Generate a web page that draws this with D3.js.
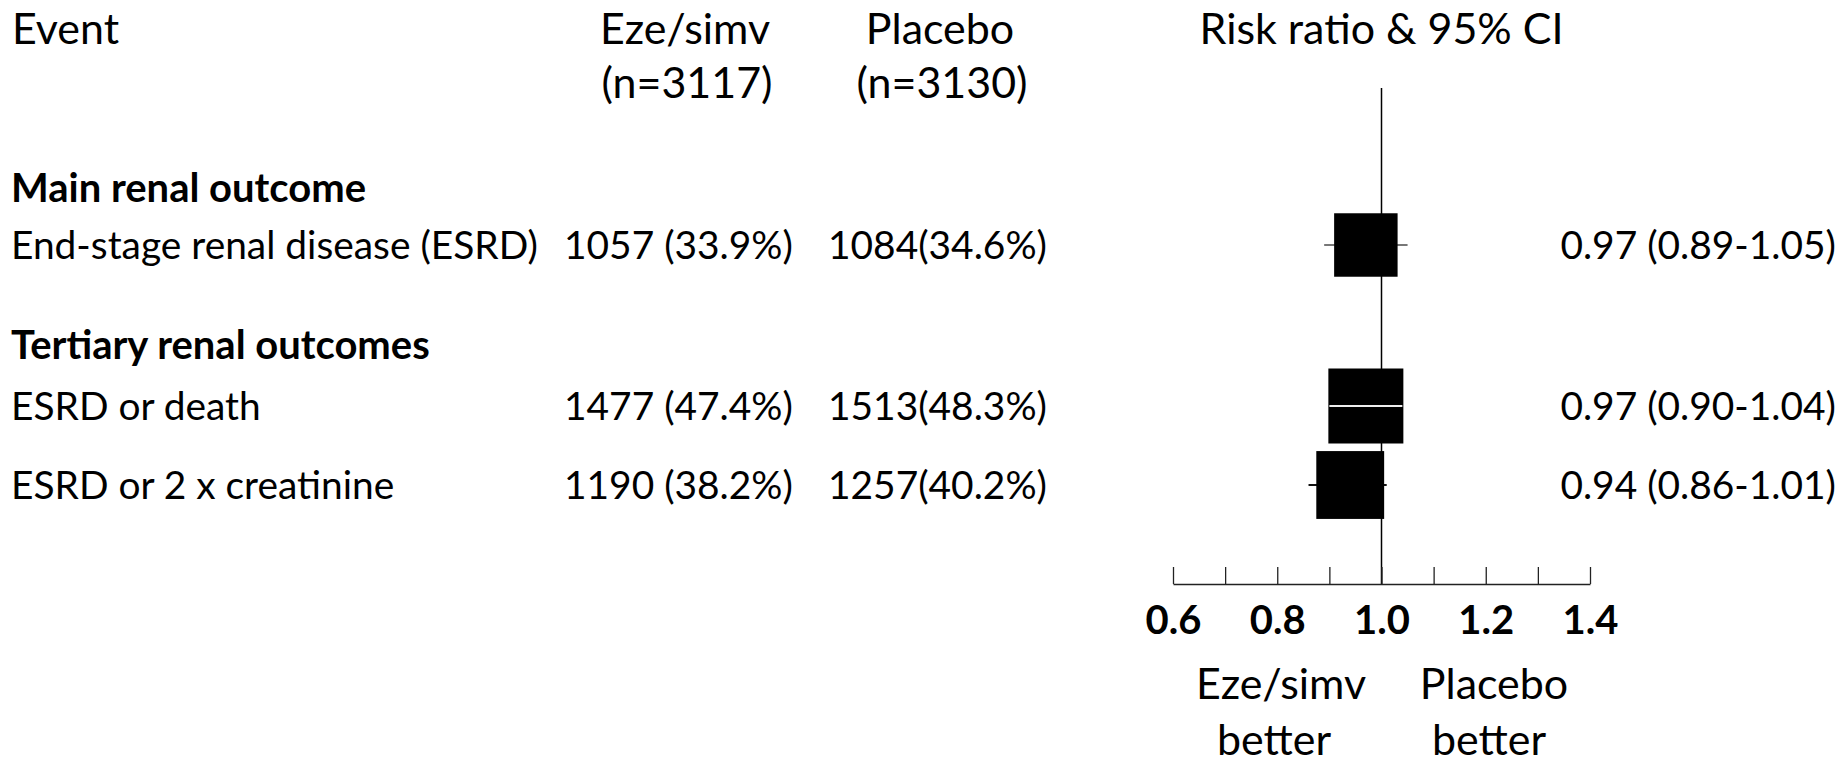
<!DOCTYPE html>
<html><head><meta charset="utf-8">
<script src="https://cdn.jsdelivr.net/npm/d3@7"></script>
<style>html,body{margin:0;padding:0;background:#fff;overflow:hidden}</style>
</head><body><svg id="chart" width="1843" height="760"></svg>
<script>
// ---------------- data ----------------
const groups = ["Main renal outcome", "Tertiary renal outcomes"];
const events = ["End-stage renal disease (ESRD)", "ESRD or death", "ESRD or 2 x creatinine"];
const eventGroup = [0, 1, 1];
const arms = ["Eze/simv", "Placebo"];
const armTotals = [3117, 3130];
const ezeN = [1057, 1477, 1190];
const ezePct = [33.9, 47.4, 38.2];
const placeboN = [1084, 1513, 1257];
const placeboPct = [34.6, 48.3, 40.2];
const rr = [0.97, 0.97, 0.94];
const rrLo = [0.89, 0.90, 0.86];
const rrHi = [1.05, 1.04, 1.01];
const axisTicks = [0.6, 0.7, 0.8, 0.9, 1.0, 1.1, 1.2, 1.3, 1.4];
const axisLabels = [0.6, 0.8, 1.0, 1.2, 1.4];
const favourLabels = [["Eze/simv", "better"], ["Placebo", "better"]];

// ---------------- layout ----------------
const FONT = "Lato, 'Open Sans', sans-serif";
const CAP = 0.716;
const svg = d3.select("#chart");
function fitSize(text, weight, target) {
  const t = svg.append("text").attr("font-family", FONT).attr("font-weight", weight)
    .attr("font-size", 100).text(text);
  const w = t.node().getComputedTextLength(); t.remove();
  return w > 0 ? 100 * target / w : 40;
}
const bodySize = fitSize("End-stage renal disease (ESRD)", 400, 527);
const headSize = fitSize("Risk ratio & 95% CI", 400, 364);
const boldSize = fitSize("Main renal outcome", 700, 355);
const base = (cy, size) => cy + CAP * size / 2;

function txt(s, x, cy, size, anchor, weight) {
  return svg.append("text").attr("x", x).attr("y", base(cy, size))
    .attr("font-family", FONT).attr("font-size", size).attr("font-weight", weight || 400)
    .attr("text-anchor", anchor || "start").attr("fill", "#000").text(s);
}

const x = d3.scaleLinear().domain([0.6, 1.4]).range([1173, 1590]);
const totals = ezeN.map((d, i) => d + placeboN[i]);
const side = d3.scaleSqrt().domain([0, d3.max(totals)]).range([0, 75]);
const rowY = [245, 406, 485];
const groupY = [188, 344.5];
const axisY = 584;

// headers
txt("Event", 12, 29, headSize);
const armX = [685, 940];
arms.forEach((a, i) => {
  txt(a, armX[i], 29, headSize, "middle");
  txt(`(n=${armTotals[i]})`, armX[i] + 2, 83, headSize, "middle");
});
txt("Risk ratio & 95% CI", x(1), 29, headSize, "middle");

// groups
groups.forEach((g, i) => txt(g, 11, groupY[i], boldSize, "start", 700));

// reference line
svg.append("line").attr("x1", x(1)).attr("x2", x(1)).attr("y1", 88).attr("y2", axisY)
  .attr("stroke", "#000").attr("stroke-width", 1.5);

// rows
const f1 = d3.format(".1f"), f2 = d3.format(".2f");
const ciColor = ["#777", "#777", "#111"];
events.forEach((e, i) => {
  const y = rowY[i];
  txt(e, 11, y, bodySize);
  txt(`${ezeN[i]} (${f1(ezePct[i])}%)`, 564, y, bodySize);
  txt(`${placeboN[i]}(${f1(placeboPct[i])}%)`, 828, y, bodySize);
  txt(`${f2(rr[i])} (${f2(rrLo[i])}-${f2(rrHi[i])})`, 1836, y, bodySize, "end");
  const s = side(totals[i]);
  svg.append("line").attr("x1", x(rrLo[i])).attr("x2", x(rrHi[i])).attr("y1", y).attr("y2", y)
    .attr("stroke", ciColor[i]).attr("stroke-width", 2);
  svg.append("rect").attr("x", x(rr[i]) - s / 2).attr("y", y - s / 2)
    .attr("width", s).attr("height", s).attr("fill", "#000");
  // CI entirely hidden by the box is shown in white on top
  if (x(rrLo[i]) >= x(rr[i]) - s / 2 && x(rrHi[i]) <= x(rr[i]) + s / 2) {
    svg.append("line").attr("x1", x(rrLo[i])).attr("x2", x(rrHi[i])).attr("y1", y).attr("y2", y)
      .attr("stroke", "#eee").attr("stroke-width", 2);
  }
});

// axis
svg.append("g").attr("transform", `translate(0,${axisY})`)
  .call(d3.axisTop(x).tickValues(axisTicks).tickSize(17).tickSizeOuter(0).tickFormat(""))
  .call(g => g.selectAll("path,line").attr("stroke", "#222").attr("stroke-width", 1.3));
svg.append("g").attr("transform", `translate(0,${axisY})`)
  .call(d3.axisBottom(x).tickValues(axisLabels).tickSize(0).tickFormat(d3.format(".1f")))
  .call(g => g.select(".domain").remove())
  .call(g => g.selectAll("text").attr("font-family", FONT).attr("font-weight", 700)
    .attr("font-size", boldSize).attr("fill", "#000").attr("dy", null)
    .attr("y", base(619.5, boldSize) - axisY));

// favour labels
const favX = [[1281, 1274], [1494, 1489]];
favourLabels.forEach((lines, i) => {
  txt(lines[0], favX[i][0], 684, headSize, "middle");
  txt(lines[1], favX[i][1], 740, headSize, "middle");
});
</script></body></html>
